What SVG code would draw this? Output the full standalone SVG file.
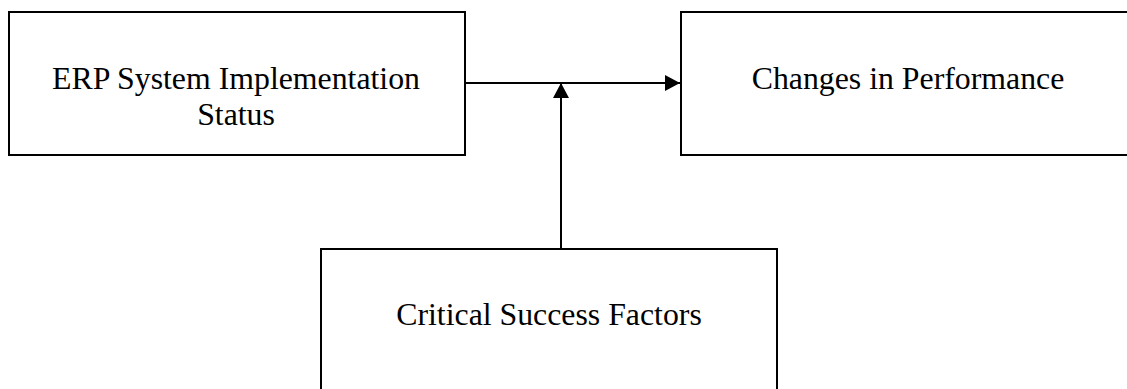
<svg xmlns="http://www.w3.org/2000/svg" width="1127" height="389" viewBox="0 0 1127 389">
<style>
.box{fill:#fff;stroke:#000;stroke-width:2}
.lbl{font-family:"Liberation Serif","Times New Roman",serif;font-size:31.8px;fill:#000;text-anchor:middle}
.conn{stroke:#000;stroke-width:2;fill:none}
</style>
<defs>
<marker id="ah" viewBox="0 0 15 16" refX="15" refY="8" markerWidth="15" markerHeight="16" markerUnits="userSpaceOnUse" orient="auto">
<path d="M0,0 L15,8 L0,16 Z" fill="#000"/>
</marker>
</defs>
<rect width="1127" height="389" fill="#fff"/>
<g id="node-erp">
<rect class="box" x="9" y="12" width="456" height="143"/>
<text class="lbl" x="236" y="89">ERP System Implementation</text>
<text class="lbl" x="236" y="125">Status</text>
</g>
<g id="node-perf">
<rect class="box" x="681" y="12" width="460" height="143"/>
<text class="lbl" x="908" y="89">Changes in Performance</text>
</g>
<g id="node-csf">
<rect class="box" x="321" y="249" width="456" height="160"/>
<text class="lbl" x="549" y="325">Critical Success Factors</text>
</g>
<g id="connectors">
<line class="conn" x1="465" y1="83" x2="680" y2="83" marker-end="url(#ah)"/>
<line class="conn" x1="561" y1="249" x2="561" y2="83" marker-end="url(#ah)"/>
</g>
</svg>
